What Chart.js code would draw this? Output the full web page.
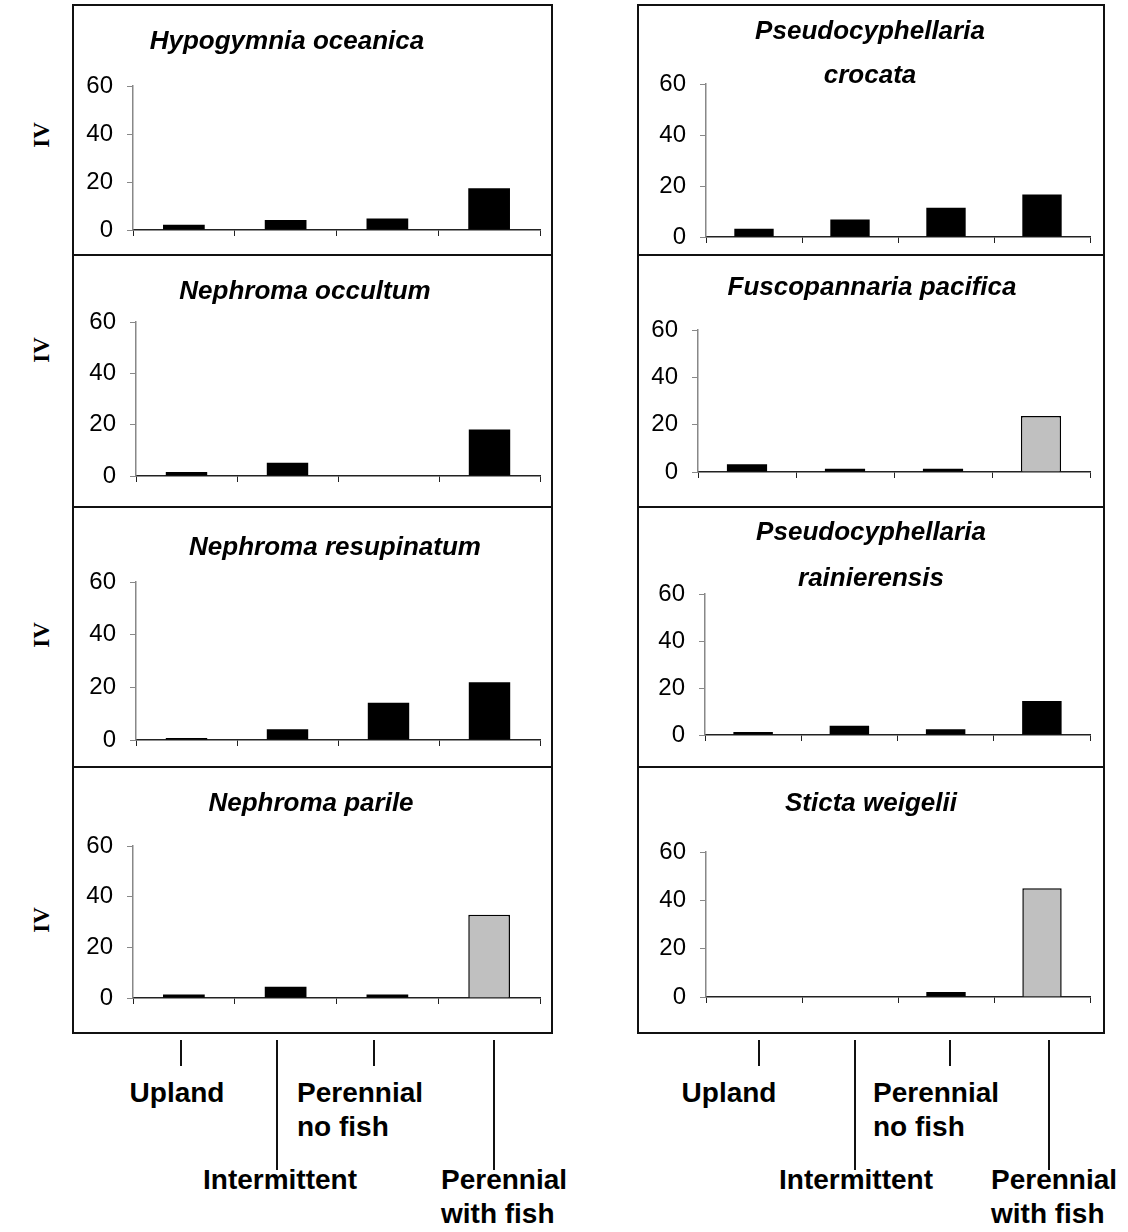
<!DOCTYPE html>
<html>
<head>
<meta charset="utf-8">
<script src="https://cdn.jsdelivr.net/npm/chart.js@4.4.1/dist/chart.umd.min.js"></script>
<style>
  body { margin: 0; background: #fff; }
  #page { position: relative; width: 1128px; height: 1232px; overflow: hidden; font-family: "Liberation Sans", Arial, sans-serif; }
  .box { position: absolute; border: 2px solid #111; box-sizing: border-box; }
  .panel { position: absolute; }
  .ttl { position: absolute; transform: translate(-50%, -50%); font-weight: bold; font-style: italic; font-size: 26px; white-space: nowrap; }
  .iv { position: absolute; transform: translate(-50%, -50%) rotate(-90deg); font-family: "Liberation Serif", "Times New Roman", serif; font-weight: bold; font-size: 23px; }
  .cat { position: absolute; font-weight: bold; font-size: 28px; line-height: 34px; white-space: nowrap; }
  .tick { position: absolute; width: 0; border-left: 2px solid #111; }
</style>
</head>
<body>
<div id="page"></div>
<script>
// categorias do eixo x
const categories = ['Upland', 'Intermittent', 'Perennial no fish', 'Perennial with fish'];
const yTicks = [0, 20, 40, 60];

// valores IV
const hypogymniaOceanica = [2.2, 4.2, 4.8, 17.4];
const nephromaOccultum = [1.6, 5.2, 0, 18.1];
const nephromaResupinatum = [0.8, 4.1, 14.1, 21.9];
const nephromaParile = [1.4, 4.4, 1.4, 32.9];
const pseudocyphellariaCrocata = [3.2, 6.9, 11.5, 16.7];
const fuscopannariaPacifica = [3.3, 1.4, 1.4, 23.7];
const pseudocyphellariaRainierensis = [1.3, 3.9, 2.5, 14.5];
const stictaWeigelii = [0, 0, 2.1, 45];

const titles = [
    ['Hypogymnia oceanica'],
    ['Nephroma occultum'],
    ['Nephroma resupinatum'],
    ['Nephroma parile'],
    ['Pseudocyphellaria', 'crocata'],
    ['Fuscopannaria pacifica'],
    ['Pseudocyphellaria', 'rainierensis'],
    ['Sticta weigelii']
];
const series = [hypogymniaOceanica, nephromaOccultum, nephromaResupinatum, nephromaParile,
    pseudocyphellariaCrocata, fuscopannariaPacifica, pseudocyphellariaRainierensis, stictaWeigelii];
// barra cinza em "Perennial with fish"
const grayLast = [false, false, false, true, false, true, false, true];

// posicoes
const cols = [{ x: 72, w: 481 }, { x: 637, w: 468 }];
const rows = [5, 255, 507, 767, 1033];
const layout = [
    { col: 0, row: 0, axisX: 133, right: 540, top: 86, zero: 230, tx: 287, ty: [40] },
    { col: 0, row: 1, axisX: 136, right: 540, top: 322, zero: 476, tx: 305, ty: [290] },
    { col: 0, row: 2, axisX: 136, right: 540, top: 582, zero: 740, tx: 335, ty: [546] },
    { col: 0, row: 3, axisX: 133, right: 540, top: 846, zero: 998, tx: 311, ty: [802] },
    { col: 1, row: 0, axisX: 706, right: 1090, top: 84, zero: 237, tx: 870, ty: [30, 74] },
    { col: 1, row: 1, axisX: 698, right: 1090, top: 330, zero: 472, tx: 872, ty: [286] },
    { col: 1, row: 2, axisX: 705, right: 1090, top: 594, zero: 735, tx: 871, ty: [531, 577] },
    { col: 1, row: 3, axisX: 706, right: 1090, top: 852, zero: 997, tx: 871, ty: [802] }
];
const ivY = [135, 350, 635, 920];
const bottomTicks = [
    [{ x: 181, long: false }, { x: 277, long: true }, { x: 374, long: false }, { x: 494, long: true }],
    [{ x: 759, long: false }, { x: 855, long: true }, { x: 950, long: false }, { x: 1049, long: true }]
];
const bottomLabels = [
    [{ x: 177, y: 1076, center: true }, { x: 280, y: 1163, center: true }, { x: 297, y: 1076 }, { x: 441, y: 1163 }],
    [{ x: 729, y: 1076, center: true }, { x: 856, y: 1163, center: true }, { x: 873, y: 1076 }, { x: 991, y: 1163 }]
];

const page = document.getElementById('page');

function addDiv(cls, css, text) {
    const d = document.createElement('div');
    d.className = cls;
    Object.assign(d.style, css);
    if (text !== undefined) d.innerHTML = text;
    page.appendChild(d);
    return d;
}

function makePanel(i) {
    const p = layout[i];
    const c = cols[p.col];
    const top = rows[p.row];
    const bottom = rows[p.row + 1];
    const h = bottom - top;

    addDiv('box', { left: c.x + 'px', top: (top - 1) + 'px', width: c.w + 'px', height: (h + 2) + 'px' });

    const wrap = addDiv('panel', { left: c.x + 'px', top: top + 'px', width: c.w + 'px', height: h + 'px' });
    const canvas = document.createElement('canvas');
    canvas.width = c.w;
    canvas.height = h;
    wrap.appendChild(canvas);

    titles[i].forEach((t, k) => {
        addDiv('ttl', { left: p.tx + 'px', top: p.ty[k] + 'px' }, t);
    });

    const vals = series[i];
    new Chart(canvas, {
        type: 'bar',
        data: {
            labels: categories,
            datasets: [{
                data: vals,
                backgroundColor: vals.map((v, j) => (grayLast[i] && j === 3) ? '#c0c0c0' : '#000'),
                borderColor: '#000',
                borderWidth: vals.map((v, j) => (grayLast[i] && j === 3) ? 1.5 : 0),
                barPercentage: 0.41,
                categoryPercentage: 1
            }]
        },
        options: {
            responsive: false,
            animation: false,
            events: [],
            layout: {
                padding: { top: p.top - top, right: c.x + c.w - p.right, bottom: bottom - p.zero - 8, left: 0 }
            },
            plugins: { legend: { display: false }, tooltip: { enabled: false } },
            scales: {
                x: {
                    offset: true,
                    grid: { offset: true, drawOnChartArea: false, tickLength: 6, color: '#222' },
                    border: { color: '#222', width: 1.5 },
                    ticks: { display: false },
                    afterFit: s => { s.height = 8; }
                },
                y: {
                    min: 0,
                    max: 60,
                    afterBuildTicks: s => { s.ticks = yTicks.map(v => ({ value: v })); },
                    ticks: {
                        color: '#000',
                        padding: 14,
                        font: { family: '"Liberation Sans", Arial, sans-serif', size: 24 }
                    },
                    grid: { drawOnChartArea: false, tickLength: 6, color: '#888' },
                    border: { color: '#888', width: 1.5 },
                    afterFit: s => {
                        s.width = p.axisX - c.x;
                        s.paddingTop = 0;
                        s.paddingBottom = 0;
                    }
                }
            }
        }
    });
}

for (let i = 0; i < series.length; i++) makePanel(i);

ivY.forEach(y => {
    addDiv('iv', { left: '42px', top: y + 'px' }, 'IV');
});

bottomTicks.forEach(col => {
    col.forEach(t => {
        addDiv('tick', { left: (t.x - 1) + 'px', top: '1040px', height: (t.long ? 130 : 26) + 'px' });
    });
});

bottomLabels.forEach(col => {
    col.forEach((l, j) => {
        const lines = categories[j] === 'Perennial no fish' ? 'Perennial<br>no fish'
            : categories[j] === 'Perennial with fish' ? 'Perennial<br>with fish' : categories[j];
        const d = addDiv('cat', { left: l.x + 'px', top: l.y + 'px' }, lines);
        if (l.center) d.style.transform = 'translateX(-50%)';
    });
});
</script>
</body>
</html>
